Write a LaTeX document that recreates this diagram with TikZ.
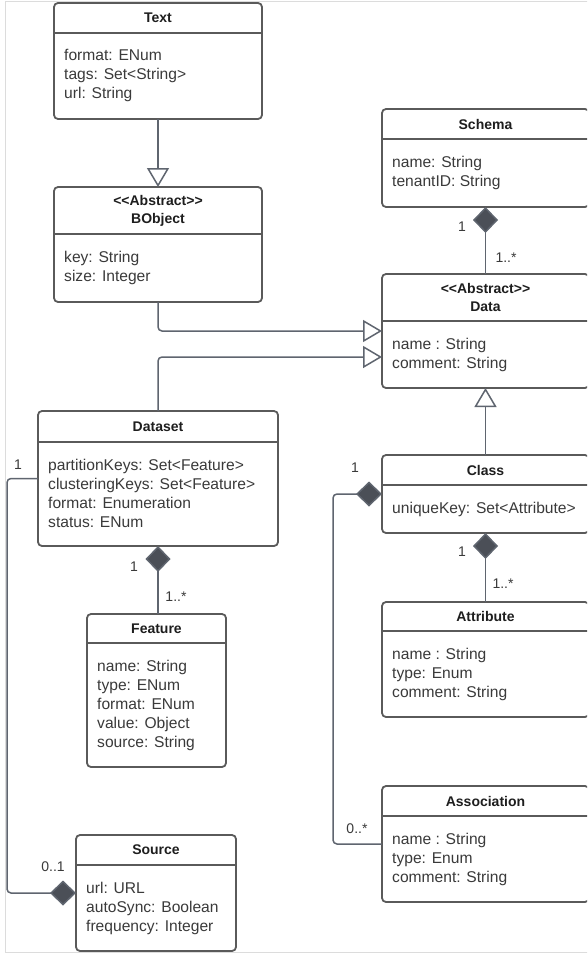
\documentclass[tikz,border=0pt]{standalone}
\usepackage{fontspec}
\newfontfamily\umlfont{Liberation Sans}
\usetikzlibrary{arrows.meta}
\definecolor{boxgray}{HTML}{5A5A5A}
\definecolor{linegray}{HTML}{5F656F}
\definecolor{diagray}{HTML}{4B4F57}
\definecolor{txtgray}{HTML}{3A3A3A}
\definecolor{ttlgray}{HTML}{1E1E1E}
\definecolor{framegray}{HTML}{DCDCDC}

\tikzset{
  classbox/.style={draw=boxgray, line width=1.8pt, rounded corners=4pt, fill=white, outer sep=0pt, inner sep=0pt},
  boxline/.style={draw=boxgray, line width=1.8pt},
  titletext/.style={font=\umlfont\fontsize{14}{18}\selectfont\bfseries, text=ttlgray, inner sep=0pt, align=center},
  attrtext/.style={font=\umlfont\fontsize{15.6}{19}\selectfont, text=txtgray, inner sep=0pt, anchor=base west},
  lbl/.style={font=\umlfont\fontsize{14}{16}\selectfont, text=txtgray, inner sep=0pt},
  conn/.style={draw=linegray, line width=1.5pt, rounded corners=4pt},
  gen/.style={conn, -{Triangle[length=19pt,width=22pt,fill=white]}},
  comp/.style={conn, {Diamond[length=26pt,width=25pt,fill=diagray]}-},
}

% #1 name, #2 left, #3 top, #4 right, #5 bottom, #6 divider y, #7 title, #8 attributes
\newcommand{\UMLbox}[8]{%
  \node[classbox, minimum width={(#4)-(#2)}, minimum height={(#5)-(#3)}, anchor=north west] (#1) at (#2,#3) {};
  \draw[boxline] (#2,#6) -- (#4,#6);
  \node[titletext] (#1-title) at ({(#2+#4)/2},{(#3+#6)/2}) {#7};
  \foreach \myattr [count=\i] in {#8}
    \node[attrtext] (#1-a\i) at ({#2+10},{#6+9+19*\i}) {\myattr};
}

\begin{document}
\begin{tikzpicture}[x=1pt,y=-1pt]
\useasboundingbox (0,0) rectangle (587,955);
\clip (0,0) rectangle (587,955);
\fill[white] (0,0) rectangle (587,955);
\draw[framegray, line width=0.8pt] (588,1) -- (5,1) -- (5,952) -- (588,952);

\UMLbox{text}{54}{3}{262}{119}{33}{Text}{format: ENum, tags: Set<String>, url: String}
\UMLbox{bobject}{54}{187}{262}{302}{234}{<<Abstract>>\\BObject}{key: String, size: Integer}
\UMLbox{schema}{382}{109}{589}{207}{139}{Schema}{name: String, tenantID: String}
\UMLbox{data}{382}{274}{589}{388}{321}{<<Abstract>>\\Data}{name : String, comment: String}
\UMLbox{dataset}{38}{411}{278}{546}{442}{Dataset}{partitionKeys: Set<Feature>, clusteringKeys: Set<Feature>, format: Enumeration, status: ENum}
\UMLbox{class}{382}{455}{589}{533}{485}{Class}{uniqueKey: Set<Attribute>}
\UMLbox{feature}{87}{614}{226}{767}{643}{Feature}{name: String, type: ENum, format: ENum, value: Object, source: String}
\UMLbox{attribute}{382}{602}{589}{717}{631}{Attribute}{name : String, type: Enum, comment: String}
\UMLbox{association}{382}{786}{589}{902}{816}{Association}{name : String, type: Enum, comment: String}
\UMLbox{source}{76}{835}{236}{951}{865}{Source}{url: URL, autoSync: Boolean, frequency: Integer}

% generalizations
\draw[gen] (text.south) -- (bobject.north);
\draw[gen] (bobject.south) |- (data.west);
\draw[gen] (dataset.north) |- ([yshift=-26pt]data.west);
\draw[gen] (class.north) -- (data.south);

% compositions
\draw[comp] (schema.south) -- (data.north);
\draw[comp] (dataset.south) -- (dataset.south |- feature.north);
\draw[comp] (class.south) -- (attribute.north);
\coordinate (lbus) at (7,700);
\draw[comp] (source.west) -| (lbus) |- (dataset.west);
\coordinate (rbus) at (333,700);
\draw[comp] (class.west) -| (rbus) |- (association.west);

% multiplicities
\node[lbl] (l-schema1) at (462,227) {1};
\node[lbl] (l-schema2) at (506,258) {1..*};
\node[lbl] (l-ds1) at (18,465) {1};
\node[lbl] (l-src) at (53,867) {0..1};
\node[lbl] (l-dsb) at (134,567) {1};
\node[lbl] (l-feat) at (176,597) {1..*};
\node[lbl] (l-cls1) at (355,468) {1};
\node[lbl] (l-assoc) at (357,829) {0..*};
\node[lbl] (l-clsb) at (462,552) {1};
\node[lbl] (l-attr) at (503,584) {1..*};
\end{tikzpicture}
\end{document}
